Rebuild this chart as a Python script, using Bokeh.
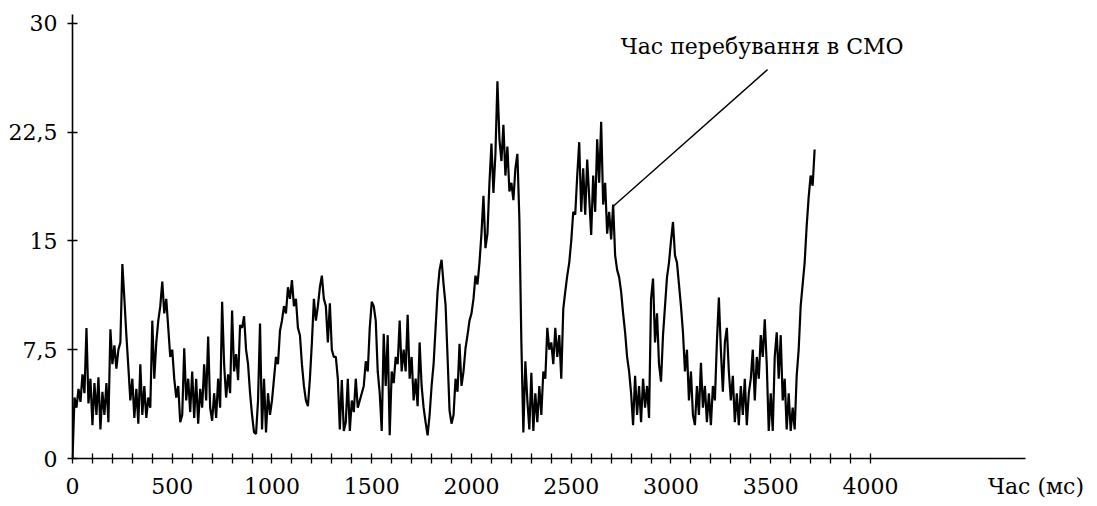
from bokeh.plotting import figure
from bokeh.models import FixedTicker, Label, ColumnDataSource
from bokeh.embed import file_html
from bokeh.resources import INLINE

step_ms = 10
values = [
    0, 4.2, 3.5, 4.8, 3.9, 5.8, 4.5, 9.0, 3.8, 5.5,
    2.3, 5.2, 3.0, 5.6, 2.0, 4.6, 3.0, 5.2, 2.5, 8.9,
    6.5, 7.8, 6.2, 7.5, 8.0, 13.4, 11.0, 8.5, 6.3, 4.0,
    5.5, 2.8, 4.8, 2.4, 6.5, 3.0, 5.0, 2.8, 4.2, 3.5,
    9.5, 5.5, 8.0, 9.5, 10.5, 12.2, 10.0, 11.0, 9.0, 7.0,
    7.5, 5.5, 4.2, 5.0, 2.5, 3.0, 7.6, 4.0, 5.5, 3.2,
    6.0, 2.8, 5.5, 2.4, 4.8, 3.5, 6.5, 4.0, 8.4, 3.5,
    2.6, 4.5, 2.8, 5.5, 3.5, 10.8, 6.5, 4.2, 5.8, 4.5,
    10.2, 6.0, 7.2, 5.4, 9.2, 9.0, 9.8, 7.5, 6.5, 4.5,
    3.0, 1.8, 1.7, 4.0, 9.3, 2.0, 5.5, 1.8, 4.5, 3.0,
    4.0, 5.5, 7.0, 6.5, 8.8, 9.5, 10.5, 10.0, 11.8, 11.0,
    12.3, 10.5, 11.0, 9.0, 8.5, 6.5, 5.0, 4.0, 3.6, 5.5,
    8.0, 11.0, 9.5, 10.5, 11.8, 12.6, 11.0, 10.5, 8.0, 10.7,
    7.5, 7.0, 7.0, 5.5, 2.0, 5.4, 1.9, 2.5, 5.5, 1.9,
    4.0, 3.2, 5.5, 3.5, 4.0, 4.5, 5.0, 6.7, 6.0, 9.0,
    10.8, 10.5, 9.5, 6.0, 4.5, 1.9, 8.6, 5.0, 8.5, 1.6,
    6.0, 5.2, 7.0, 6.5, 9.5, 6.0, 7.5, 6.0, 9.9, 5.5,
    7.0, 4.0, 5.5, 3.6, 8.0, 5.0, 3.5, 2.5, 1.6, 3.0,
    5.0, 6.5, 9.0, 11.5, 13.0, 13.7, 12.0, 10.6, 7.0, 3.3,
    2.4, 3.0, 5.5, 4.6, 7.9, 5.0, 6.0, 7.6, 8.5, 9.5,
    10.0, 11.0, 12.6, 12.0, 13.5, 15.5, 18.1, 14.5, 15.5, 19.0,
    21.7, 18.3, 21.0, 26.0, 22.0, 20.5, 23.0, 19.5, 21.5, 18.4,
    19.0, 17.8, 20.0, 21.0, 16.5, 8.0, 1.8, 6.7, 4.0, 2.0,
    5.9, 1.9, 4.5, 2.5, 5.0, 3.0, 6.0, 5.5, 9.0, 7.5,
    8.0, 6.5, 9.0, 7.0, 8.5, 5.5, 10.3, 11.5, 12.6, 13.5,
    15.0, 17.0, 16.8, 19.5, 21.8, 17.0, 20.0, 16.8, 20.6, 18.0,
    15.4, 19.5, 17.0, 22.0, 19.0, 23.2, 17.5, 19.0, 15.5, 17.0,
    15.1, 17.5, 14.0, 13.0, 12.5, 11.5, 10.0, 8.7, 7.0, 6.0,
    4.5, 2.3, 5.7, 3.0, 5.0, 2.5, 5.5, 3.5, 5.0, 2.8,
    11.0, 12.4, 8.0, 10.0, 6.5, 5.3, 8.5, 10.5, 12.5, 13.5,
    15.0, 16.3, 14.0, 13.5, 12.0, 10.5, 8.7, 6.0, 7.5, 4.0,
    6.0, 3.0, 2.3, 5.0, 3.0, 6.6, 3.5, 5.0, 2.5, 4.5,
    2.3, 5.0, 4.0, 8.0, 11.1, 7.5, 4.6, 8.0, 9.0, 6.0,
    4.0, 5.7, 2.5, 4.5, 2.3, 5.0, 3.0, 5.5, 2.3, 4.5,
    5.5, 7.5, 4.0, 7.0, 5.5, 8.5, 7.0, 9.6, 6.5, 1.9,
    4.5, 1.9, 7.0, 8.7, 5.5, 8.5, 4.0, 5.5, 2.0, 4.5,
    1.9, 3.5, 2.0, 5.7, 7.5, 10.5, 12.0, 13.5, 16.0, 18.0,
    19.5, 18.8, 21.3,
]
times = [i * step_ms for i in range(len(values))]

y_ticks = [0, 7.5, 15, 22.5, 30]
y_tick_labels = ["0", "7,5", "15", "22,5", "30"]
x_ticks = [0, 500, 1000, 1500, 2000, 2500, 3000, 3500, 4000]
x_tick_marks = list(range(0, 4001, 100))
x_end = 4777

x_title = "Час (мс)"
series_name = "Час перебування в СМО"
# annotation leader line: from a point on the curve to the label
lead_from = (2712, 17.4)
lead_to = (3484, 26.8)
label_pos = (2748, 28.4)

FONT = "DejaVu Serif"
FS = "22px"

p = figure(width=1089, height=501, output_backend="svg", toolbar_location=None,
           x_range=(0, x_end), y_range=(0, 30.6),
           min_border_left=72, min_border_right=64, min_border_top=14, min_border_bottom=42)
p.outline_line_color = None
p.grid.visible = False
p.background_fill_color = "white"

p.line(times, values, line_color="black", line_width=2.2)

# y axis
ya = p.yaxis[0]
ya.ticker = FixedTicker(ticks=y_ticks)
ya.major_label_overrides = {t: l for t, l in zip(y_ticks, y_tick_labels)}
ya.minor_tick_line_color = None
ya.major_tick_line_color = "black"
ya.major_tick_line_width = 1.4
ya.major_tick_in = 5
ya.major_tick_out = 5
ya.major_label_standoff = 10

# x axis: cross-shaped tick marks every 100 ms; the axis title sits on the
# tick-label row at the end of the axis
xa = p.xaxis[0]
xa.ticker = FixedTicker(ticks=x_ticks + [x_end], minor_ticks=x_tick_marks)
xa.major_label_overrides = {x_end: "\u00a0\u00a0\u00a0" + x_title}
xa.major_tick_line_color = None
xa.major_tick_out = 5
xa.minor_tick_line_color = "black"
xa.minor_tick_in = 5
xa.minor_tick_out = 5
xa.minor_tick_line_width = 1.3
xa.major_label_standoff = 10

for ax in (xa, ya):
    ax.axis_line_color = "black"
    ax.axis_line_width = 1.6
    ax.major_label_text_font = FONT
    ax.major_label_text_font_size = FS
    ax.major_label_text_color = "black"

src = ColumnDataSource(dict(x0=[lead_from[0]], y0=[lead_from[1]], x1=[lead_to[0]], y1=[lead_to[1]]))
p.add_layout(Label(x=label_pos[0], y=label_pos[1], text=series_name, text_font=FONT,
                   text_font_size=FS, text_color="black", text_baseline="middle"))
p.segment(x0="x0", y0="y0", x1="x1", y1="y1", source=src, line_color="black", line_width=1.4)

open("out.html", "w").write(file_html(p, INLINE))
